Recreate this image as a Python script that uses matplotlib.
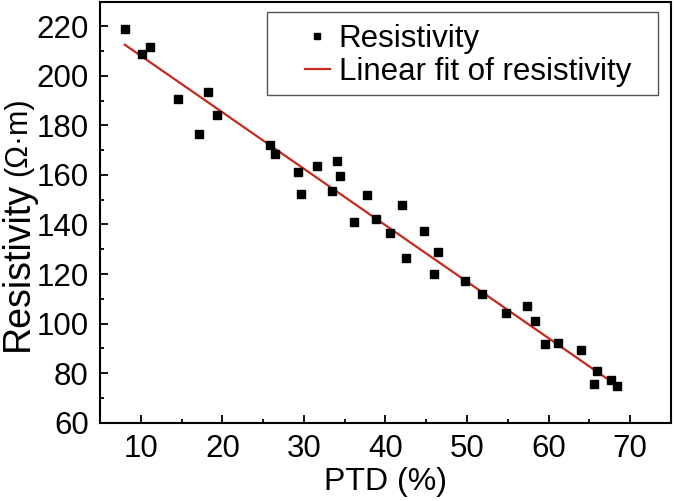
import matplotlib
matplotlib.use("Agg")
import matplotlib.pyplot as plt
from matplotlib.ticker import MultipleLocator
from matplotlib.patches import Rectangle
import numpy as np

plt.rcParams['font.family'] = ['Liberation Sans', 'DejaVu Sans']

# Data
ptd = [8.04, 10.2, 11.1, 14.6, 17.1, 18.2, 19.3, 25.9, 26.5, 29.3, 29.6, 31.55,
       33.5, 34.1, 34.4, 36.2, 37.7, 38.8, 40.6, 42.0, 42.5, 44.7, 46.0, 46.4,
       49.8, 51.8, 54.8, 57.3, 58.3, 59.5, 61.2, 64.0, 65.6, 65.9, 67.6, 68.4]
resistivity = [218.7, 208.7, 211.6, 190.7, 176.6, 193.4, 184.1, 172.1, 168.6, 161.2, 152.5, 163.7,
               153.6, 165.6, 159.6, 141.2, 152.1, 142.1, 136.4, 147.8, 126.5, 137.3, 120.1, 129.0,
               117.3, 112.0, 104.2, 106.9, 101.1, 91.9, 92.2, 89.5, 75.8, 80.9, 77.1, 74.7]
fit_slope = -2.28
fit_intercept = 230.9
x_ticks = [10, 20, 30, 40, 50, 60, 70]
y_ticks = [60, 80, 100, 120, 140, 160, 180, 200, 220]

fig = plt.figure(figsize=(6.75, 5.01), dpi=100)
ax = fig.add_axes([0.1481, 0.1563, 0.8459, 0.8407])

ax.plot(ptd, resistivity, linestyle='none', marker='s', markersize=6.3,
        color='black', label='Resistivity', zorder=3)
fx = np.array([min(ptd), max(ptd)])
ax.plot(fx, fit_intercept + fit_slope * fx, color='#c42a1c', linewidth=1.6,
        label='Linear fit of resistivity', zorder=2)

ax.set_xlim(5, 75)
ax.set_ylim(60, 230)
ax.set_xticks(x_ticks)
ax.set_yticks(y_ticks)
ax.xaxis.set_minor_locator(MultipleLocator(5))
ax.yaxis.set_minor_locator(MultipleLocator(10))
ax.tick_params(which='both', direction='in', top=False, right=False, width=1.3,
               labelsize=22.5, colors='black')
ax.tick_params(which='major', length=6, pad=8)
ax.tick_params(which='minor', length=3)
for s in ax.spines.values():
    s.set_linewidth(1.5)

ax.set_xlabel('PTD (%)', fontsize=23, labelpad=2)

# legend frame (drawn separately to reproduce its wide left margin)
ax.add_patch(Rectangle((0.2925, 0.778), 0.977 - 0.2925, 0.975 - 0.778,
                       transform=ax.transAxes, facecolor='white', edgecolor='#555555',
                       linewidth=1.0, zorder=4))
leg = ax.legend(loc='upper left', bbox_to_anchor=(0.359, 0.946), borderaxespad=0,
                fontsize=22.5, frameon=False, handlelength=0.8, handletextpad=0.28,
                labelspacing=0.1, borderpad=0, markerscale=0.75)
leg.set_zorder(5)

# y label: "Resistivity" + smaller "(Ω·m)", centred on the axes
H = fig.bbox.height
t1 = fig.text(0.0, 0.5, 'Resistivity', rotation=90, fontsize=27,
              ha='left', va='bottom')
t2 = fig.text(0.004, 0.5, '(Ω·m)', rotation=90, fontsize=22,
              ha='left', va='bottom')
fig.canvas.draw()
r = fig.canvas.get_renderer()
b1 = t1.get_window_extent(r)
b2 = t2.get_window_extent(r)
gap = 6
total = b1.height + gap + b2.height
axb = ax.get_window_extent(r)
center = (axb.y0 + axb.y1) / 2 - 12
start = center - total / 2
t1.set_y(start / H)
t2.set_y((start + b1.height + gap) / H)

fig.savefig('out.png', dpi=100)
